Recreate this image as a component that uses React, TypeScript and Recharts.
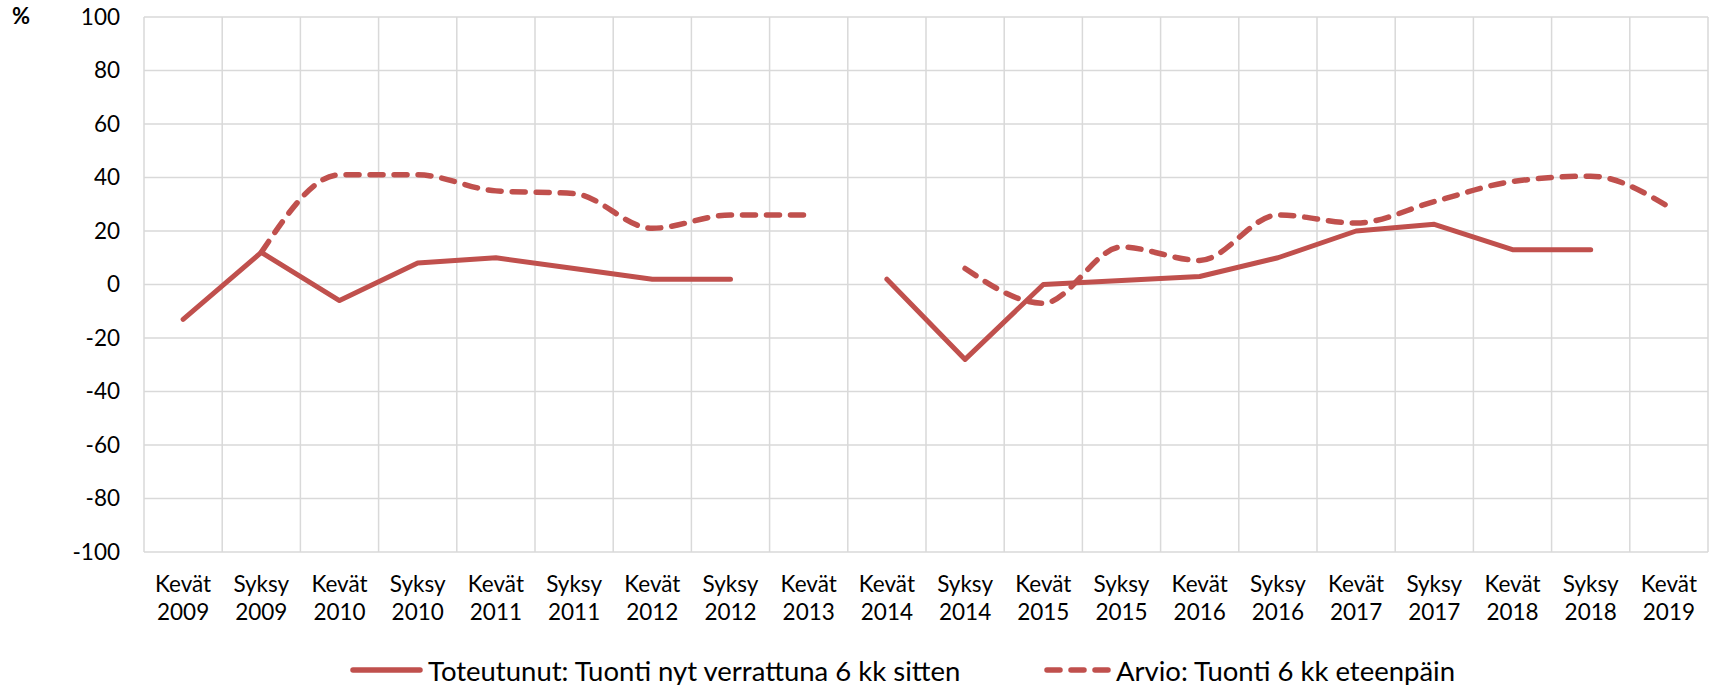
import React from "react";
import { LineChart, Line, XAxis, YAxis, CartesianGrid } from "recharts";

const categories = [
  "Kevät 2009", "Syksy 2009", "Kevät 2010", "Syksy 2010", "Kevät 2011",
  "Syksy 2011", "Kevät 2012", "Syksy 2012", "Kevät 2013", "Kevät 2014",
  "Syksy 2014", "Kevät 2015", "Syksy 2015", "Kevät 2016", "Syksy 2016",
  "Kevät 2017", "Syksy 2017", "Kevät 2018", "Syksy 2018", "Kevät 2019",
];

const toteutunut: (number | null)[] = [
  -13, 12, -6, 8, 10, 6, 2, 2, null, 2,
  -28, 0, 1.5, 3, 10, 20, 22.5, 13, 13, null,
];

const arvio: (number | null)[] = [
  null, 12, 41, 41, 35, 34, 21, 26, 26, null,
  6, -7, 14, 9, 26, 23, 31, 38.5, 40.5, 29,
];

const yTicks = [-100, -80, -60, -40, -20, 0, 20, 40, 60, 80, 100];

const SERIES_TOT = "Toteutunut: Tuonti nyt verrattuna 6 kk sitten";
const SERIES_ARV = "Arvio: Tuonti 6 kk eteenpäin";

const RED = "#c0504d";
const FONT = "Lato, 'Noto Sans', sans-serif";

const data = categories.map((name, i) => ({
  name,
  toteutunut: toteutunut[i],
  arvio: arvio[i],
}));

function CategoryTick(props: any) {
  const { x, y, payload } = props;
  const [season, year] = String(payload.value).split(" ");
  return (
    <text x={x} y={y} textAnchor="middle" fontFamily={FONT} fontSize={22.5} fill="#000">
      <tspan x={x} dy={38}>{season}</tspan>
      <tspan x={x} dy={28}>{year}</tspan>
    </text>
  );
}

// legend drawn as plain html under the chart, so it doesn't eat plot height
function ChartLegend() {
  const item: React.CSSProperties = {
    position: "absolute",
    top: 650,
    display: "flex",
    alignItems: "center",
    height: 40,
    fontFamily: FONT,
    fontSize: 27.5,
    color: "#000",
    whiteSpace: "nowrap",
  };
  return (
    <>
      <div style={{ ...item, left: 348 }}>
        <svg width={78} height={30}>
          <line x1={5} y1={15} x2={72} y2={15} stroke={RED} strokeWidth={5.5} strokeLinecap="round" />
        </svg>
        <span style={{ marginLeft: 2 }}>{SERIES_TOT}</span>
      </div>
      <div style={{ ...item, left: 1042 }}>
        <svg width={72} height={30}>
          <line
            x1={5}
            y1={15}
            x2={68}
            y2={15}
            stroke={RED}
            strokeWidth={5.5}
            strokeLinecap="round"
            strokeDasharray="13 11"
          />
        </svg>
        <span style={{ marginLeft: 2 }}>{SERIES_ARV}</span>
      </div>
    </>
  );
}

export default function App() {
  return (
    <div style={{ position: "absolute", left: 0, top: 0, width: 1715, height: 685, background: "#fff" }}>
      <div
        style={{
          position: "absolute",
          left: 12,
          top: 2,
          fontFamily: FONT,
          fontWeight: 700,
          fontSize: 22,
        }}
      >
        %
      </div>
      <LineChart
        width={1715}
        height={685}
        data={data}
        margin={{ top: 17, right: 7, bottom: 103, left: 0 }}
      >
        <CartesianGrid
          stroke="#d9d9d9"
          strokeWidth={1.5}
          verticalCoordinatesGenerator={({ offset }: any) =>
            Array.from(
              { length: categories.length + 1 },
              (_, i) => offset.left + (i * offset.width) / categories.length
            )
          }
        />
        <XAxis
          dataKey="name"
          scale="band"
          interval={0}
          height={30}
          axisLine={false}
          tickLine={false}
          tickSize={0}
          tick={<CategoryTick />}
        />
        <YAxis
          type="number"
          domain={[-100, 100]}
          ticks={yTicks}
          width={144}
          axisLine={false}
          tickLine={false}
          tickSize={0}
          tickMargin={24}
          tick={{ fontFamily: FONT, fontSize: 22.5, fill: "#000" }}
        />
        <Line
          type="linear"
          dataKey="toteutunut"
          name={SERIES_TOT}
          stroke={RED}
          strokeWidth={5}
          strokeLinecap="round"
          strokeLinejoin="round"
          dot={false}
          activeDot={false}
          isAnimationActive={false}
        />
        <Line
          type="monotone"
          dataKey="arvio"
          name={SERIES_ARV}
          stroke={RED}
          strokeWidth={5.5}
          strokeLinecap="round"
          strokeDasharray="13 11"
          dot={false}
          activeDot={false}
          isAnimationActive={false}
        />
      </LineChart>
      <ChartLegend />
    </div>
  );
}
